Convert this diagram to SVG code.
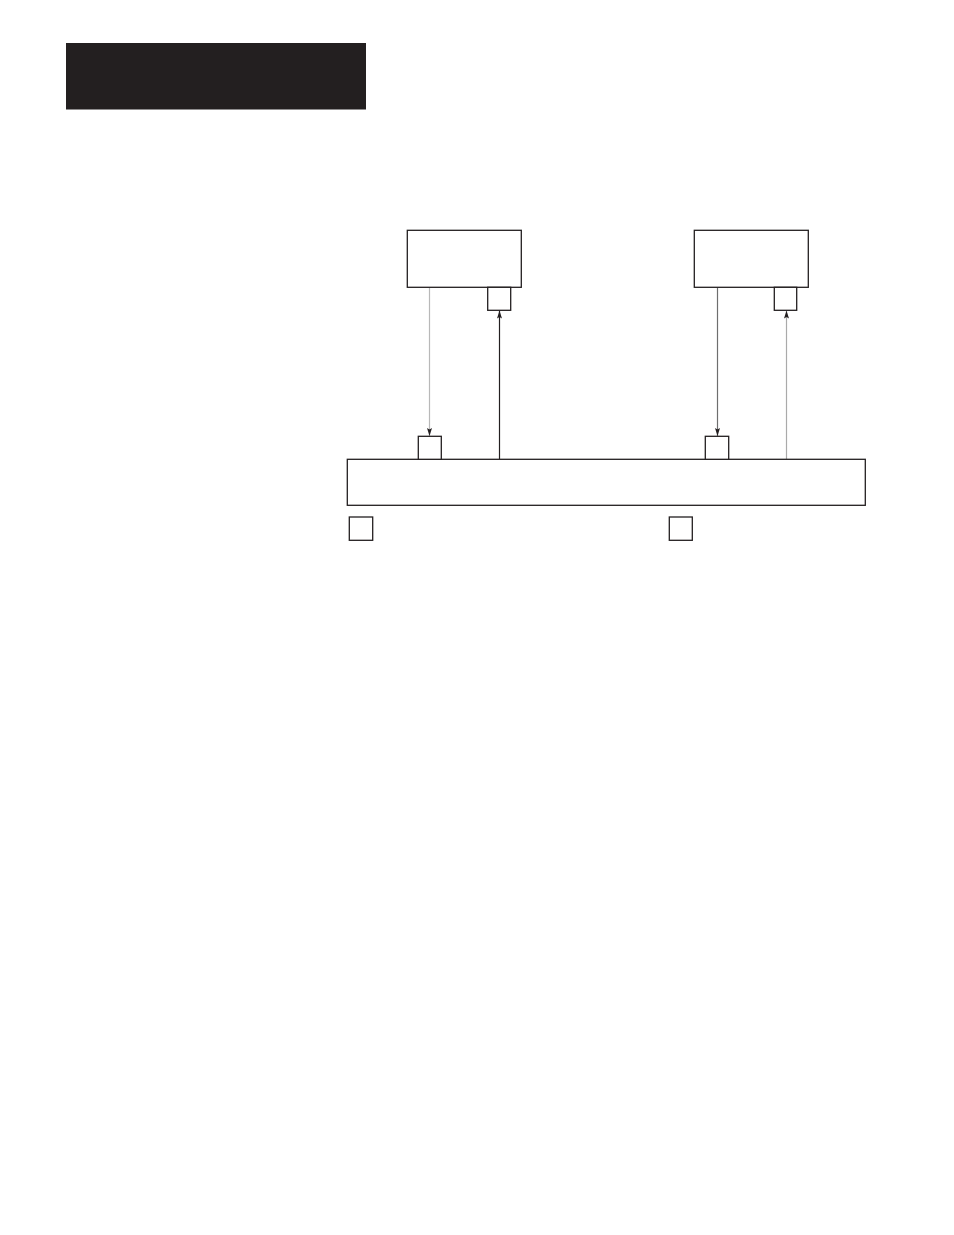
<svg xmlns="http://www.w3.org/2000/svg" width="954" height="1235" viewBox="0 0 954 1235">
<style>
.box{fill:#fff;stroke:#231f20;stroke-width:1.3}
.ln{fill:none;stroke-width:1.2}
</style>
<defs>
<marker id="ah" viewBox="0 0 8 5" refX="8" refY="2.5" markerWidth="8" markerHeight="5" markerUnits="userSpaceOnUse" orient="auto"><path d="M0,0 L8,2.5 L0,5 L1.5,2.5 z" fill="#231f20"/></marker>
</defs>
<rect x="0" y="0" width="954" height="1235" fill="#fff"/>
<g id="header"><rect x="66" y="43" width="300" height="66.5" fill="#231f20"/></g>
<g id="connectors">
<line class="ln" x1="429.5" y1="287.5" x2="429.5" y2="436" stroke="#b8b8b8" marker-end="url(#ah)"/>
<line class="ln" x1="499.5" y1="459" x2="499.5" y2="310.5" stroke="#231f20" marker-end="url(#ah)"/>
<line class="ln" x1="717.5" y1="287.5" x2="717.5" y2="436" stroke="#6e6e6e" marker-end="url(#ah)"/>
<line class="ln" x1="786.5" y1="459" x2="786.5" y2="310.5" stroke="#aaaaaa" marker-end="url(#ah)"/>
</g>
<g id="node1"><rect class="box" x="407.3" y="230.3" width="114" height="57"/><rect class="box" x="487.7" y="287.3" width="23" height="23"/></g>
<g id="node2"><rect class="box" x="694.3" y="230.3" width="114" height="57"/><rect class="box" x="774.3" y="287.3" width="22.4" height="23"/></g>
<g id="bus"><rect class="box" x="347.3" y="459.3" width="518" height="46"/></g>
<g id="port1"><rect class="box" x="418.3" y="436.3" width="23" height="23"/></g>
<g id="port2"><rect class="box" x="705.3" y="436.3" width="23.4" height="23"/></g>
<g id="legend1"><rect class="box" x="349.3" y="517" width="23.4" height="23.3"/></g>
<g id="legend2"><rect class="box" x="669.3" y="517" width="23" height="23.3"/></g>
</svg>
